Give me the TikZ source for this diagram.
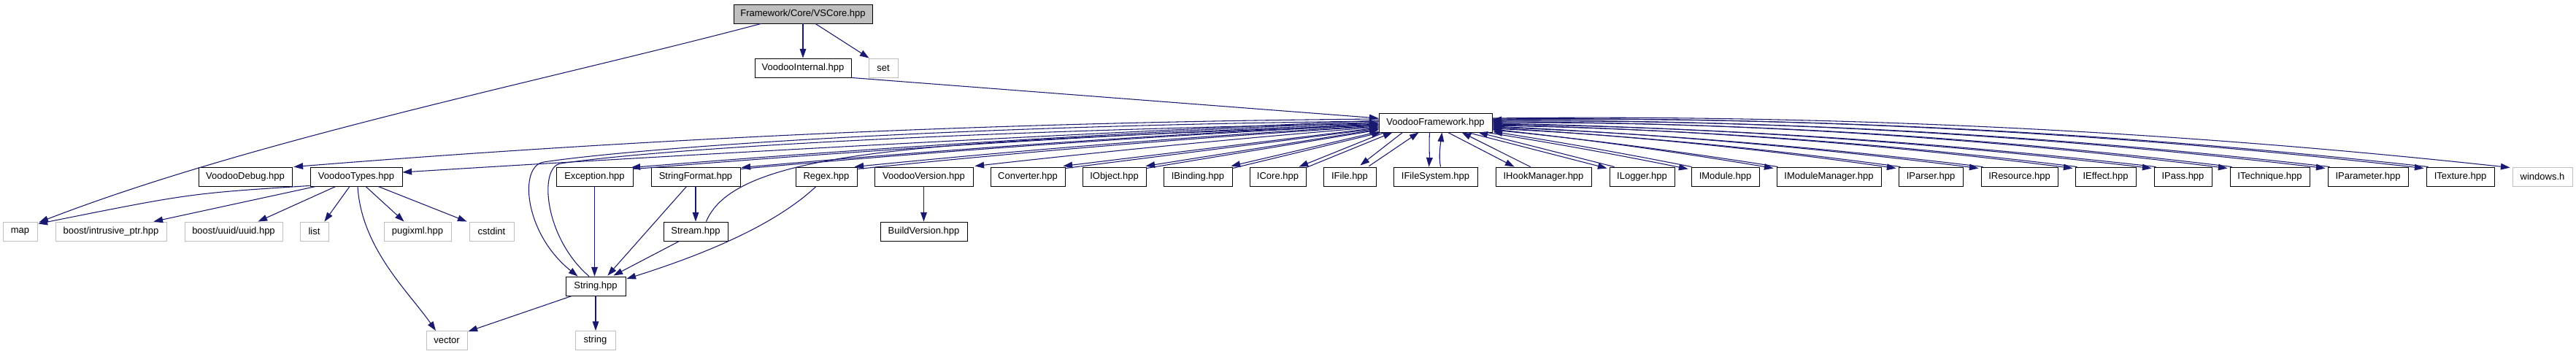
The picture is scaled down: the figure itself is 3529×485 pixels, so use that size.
\documentclass[tikz,border=0pt]{standalone}
\usepackage{fontspec}
\setmainfont{Liberation Sans}
\usetikzlibrary{arrows.meta,calc}
\definecolor{edgec}{HTML}{191970}
\definecolor{extc}{HTML}{BFBFBF}
% bent edge: #1 start point, #2 end point, #3 upward lift of the middle
\newcommand\bedge[3]{%
  \path #1 coordinate (bs) #2 coordinate (bt);
  \draw[e] (bs) .. controls ($(bs)!0.333!(bt)+(0,#3)$) and ($(bs)!0.667!(bt)+(0,#3)$) .. (bt);}
\begin{document}
\begin{tikzpicture}[x=0.75pt,y=0.75pt,
  nd/.style={draw=black,line width=0.65pt,inner sep=0pt,minimum height=19.5pt,
    font=\fontsize{9.75}{11.7}\selectfont,anchor=center},
  ext/.style={nd,draw=extc},
  bw/.style={minimum width=#1*0.75pt},
  e/.style={draw=edgec,line width=0.8pt,-{Triangle[length=9.5pt,width=6.5pt]}}]
\fill[white] (0,0) rectangle (3529,-485);
\useasboundingbox (0,0) rectangle (3529,-485);
% top
\node[nd,bw=190,fill=extc] (vscore) at (1100,-19) {Framework/Core/VSCore.hpp};
\node[nd,bw=132] (vint) at (1100,-93) {VoodooInternal.hpp};
\node[ext,bw=40] (set) at (1210,-93) {set};
\node[nd,bw=155] (vf) at (1966.5,-168) {VoodooFramework.hpp};
% row 2
\node[nd,bw=128] (dbg) at (336,-242) {VoodooDebug.hpp};
\node[nd,bw=126] (types) at (488,-242) {VoodooTypes.hpp};
\node[nd,bw=105] (exc) at (814.5,-242) {Exception.hpp};
\node[nd,bw=122] (sfmt) at (953,-242) {StringFormat.hpp};
\node[nd,bw=84] (regex) at (1132,-242) {Regex.hpp};
\node[nd,bw=135] (vver) at (1265.5,-242) {VoodooVersion.hpp};
\node[nd,bw=102] (conv) at (1408,-242) {Converter.hpp};
\node[nd,bw=87] (iobj) at (1526.5,-242) {IObject.hpp};
\node[nd,bw=94] (ibind) at (1641,-242) {IBinding.hpp};
\node[nd,bw=77] (icore) at (1750.5,-242) {ICore.hpp};
\node[nd,bw=72] (ifile) at (1849,-242) {IFile.hpp};
\node[nd,bw=115] (ifs) at (1966.5,-242) {IFileSystem.hpp};
\node[nd,bw=131] (ihook) at (2114.5,-242) {IHookManager.hpp};
\node[nd,bw=89] (ilog) at (2249.5,-242) {ILogger.hpp};
\node[nd,bw=93] (imod) at (2363.5,-242) {IModule.hpp};
\node[nd,bw=143] (imodm) at (2505.5,-242) {IModuleManager.hpp};
\node[nd,bw=88] (ipars) at (2645,-242) {IParser.hpp};
\node[nd,bw=105] (ires) at (2766.5,-242) {IResource.hpp};
\node[nd,bw=83] (ieff) at (2884.5,-242) {IEffect.hpp};
\node[nd,bw=79] (ipass) at (2990.5,-242) {IPass.hpp};
\node[nd,bw=109] (itech) at (3109.5,-242) {ITechnique.hpp};
\node[nd,bw=110] (iparam) at (3244,-242) {IParameter.hpp};
\node[nd,bw=93] (itex) at (3370.5,-242) {ITexture.hpp};
\node[ext,bw=82] (win) at (3483,-242) {windows.h};
% row 3
\node[ext,bw=47] (map) at (27.5,-317) {map};
\node[ext,bw=152] (bip) at (152,-317) {boost/intrusive\_ptr.hpp};
\node[ext,bw=134] (buuid) at (320,-317) {boost/uuid/uuid.hpp};
\node[ext,bw=39] (list) at (430.5,-317) {list};
\node[ext,bw=92] (pugi) at (572,-317) {pugixml.hpp};
\node[ext,bw=61] (cstd) at (673.5,-317) {cstdint};
\node[nd,bw=88] (stream) at (953,-317) {Stream.hpp};
\node[nd,bw=119] (bver) at (1265.5,-317) {BuildVersion.hpp};
% rows 4, 5
\node[nd,bw=82] (strh) at (816,-392) {String.hpp};
\node[ext,bw=56] (vector) at (612,-466.5) {vector};
\node[ext,bw=55] (strstd) at (815.5,-466.5) {string};
% top edges
\draw[e] ($(vscore.south west)+(38,0)$) .. controls (750,-110) and (350,-190) .. ($(map.north east)+(2,-1)$);
\draw[e] (vscore.south) -- (vint.north);
\draw[e] ($(vscore.south)+(17,0)$) -- ($(set.north west)+(1,0)$);
\draw[e] (vint.south east) -- ($(vf.west)+(0,6)$);
% VF -> left row
\bedge{($(vf.west)+(0,5)$)}{($(dbg.north east)+(2,0)$)}{18}
\bedge{($(vf.west)+(0,3)$)}{($(types.east)+(0,6)$)}{4}
\bedge{($(vf.west)+(0,1)$)}{($(exc.north east)+(-3,-1)$)}{7}
\bedge{($(exc.north east)+(1,-3)$)}{($(vf.west)+(0,-1)$)}{7}
\bedge{($(vf.west)+(0,-2)$)}{($(sfmt.north east)+(1,-1)$)}{6}
\bedge{($(sfmt.north east)+(0,-3)$)}{($(vf.west)+(0,-3)$)}{6}
\bedge{($(vf.west)+(0,-4)$)}{($(regex.north east)+(-4,0)$)}{5}
\bedge{($(regex.north east)+(0,-3)$)}{($(vf.west)+(0,-5)$)}{5}
\bedge{($(vf.west)+(0,-6)$)}{($(vver.north east)+(2,1)$)}{3}
\draw[e] ($(vf.west)+(0,-7)$) -- ($(conv.north east)+(-3,1)$);
\draw[e] ($(conv.north east)+(0,-2)$) -- ($(vf.west)+(0,-8)$);
\draw[e] ($(vf.west)+(0,-9)$) -- ($(iobj.north east)+(-1,1)$);
\draw[e] ($(iobj.north east)+(0,-2)$) -- ($(vf.west)+(0,-10)$);
\draw[e] ($(vf.south west)+(0,1)$) -- ($(ibind.north east)+(-2,1)$);
\draw[e] ($(ibind.north east)+(0,-2)$) -- ($(vf.south west)+(3,0)$);
\draw[e] ($(vf.south west)+(8,0)$) -- ($(icore.north east)+(-10,0)$);
\draw[e] ($(icore.north east)+(0,-1)$) -- ($(vf.south west)+(19,0)$);
\draw[e] ($(vf.south west)+(33,0)$) -- ($(ifile.north east)+(-22,2)$);
\draw[e] ($(ifile.north east)+(-10,1)$) -- ($(vf.south west)+(55,0)$);
\draw[e] ($(vf.south)+(-8,0)$) .. controls +(-1,-15) and +(1,15) .. ($(ifs.north)+(-9,0)$);
\draw[e] ($(ifs.north)+(7,0)$) .. controls +(-3,15) and +(-2,-15) .. ($(vf.south)+(9,0)$);
% VF -> right row
\draw[e] ($(vf.south)+(17,0)$) -- ($(ihook.north west)+(26,0)$);
\draw[e] ($(ihook.north west)+(48,0)$) -- ($(vf.south)+(36,0)$);
\draw[e] ($(vf.south east)+(-34,0)$) -- ($(ilog.north west)+(-3,-2)$);
\draw[e] ($(ilog.north west)+(7,0)$) -- ($(vf.south east)+(-19,0)$);
\bedge{($(vf.south east)+(-8,0)$)}{($(imod.north west)+(-4,-3)$)}{2}
\bedge{($(imod.north west)+(1,0)$)}{($(vf.south east)+(1,1)$)}{2}
\bedge{($(vf.east)+(0,-9)$)}{($(imodm.north west)+(-4,-2)$)}{4}
\bedge{($(imodm.north west)+(2,0)$)}{($(vf.east)+(0,-10)$)}{4}
\bedge{($(vf.east)+(0,-7)$)}{($(ipars.north west)+(-3,-2)$)}{8}
\bedge{($(ipars.north west)+(3,0)$)}{($(vf.east)+(0,-8)$)}{8}
\bedge{($(vf.east)+(0,-5)$)}{($(ires.north west)+(-3,-2)$)}{9}
\bedge{($(ires.north west)+(3,0)$)}{($(vf.east)+(0,-6)$)}{9}
\bedge{($(vf.east)+(0,-3)$)}{($(ieff.north west)+(-3,-2)$)}{14}
\bedge{($(ieff.north west)+(3,0)$)}{($(vf.east)+(0,-4)$)}{14}
\bedge{($(vf.east)+(0,-1)$)}{($(ipass.north west)+(-3,-2)$)}{15}
\bedge{($(ipass.north west)+(3,0)$)}{($(vf.east)+(0,-2)$)}{15}
\bedge{($(vf.east)+(0,1)$)}{($(itech.north west)+(-3,-2)$)}{21}
\bedge{($(itech.north west)+(3,0)$)}{($(vf.east)+(0,0)$)}{21}
\bedge{($(vf.east)+(0,3)$)}{($(iparam.north west)+(-3,-2)$)}{23}
\bedge{($(iparam.north west)+(3,0)$)}{($(vf.east)+(0,2)$)}{23}
\bedge{($(vf.east)+(0,5)$)}{($(itex.north west)+(-3,-2)$)}{26}
\bedge{($(itex.north west)+(3,0)$)}{($(vf.east)+(0,4)$)}{26}
\bedge{($(vf.east)+(0,6)$)}{($(win.north west)+(-3,-1)$)}{28}
% String.hpp <-> VF
\draw[e] ($(vf.west)+(0,2)$) .. controls (1300,-172) and (875,-202.5) .. (745,-222)
  .. controls (710,-227) and (718,-320) .. ($(strh.north west)+(17,0)$);
\draw[e] ($(strh.north)+(-9,0)$) .. controls (745,-325) and (738,-228.5) .. (768,-224)
  .. controls (898,-204.5) and (1300,-180) .. ($(vf.west)+(0,-1)$);
% Stream -> VF
\draw[e] ($(stream.north east)+(-30,0)$) .. controls (1010,-200) and (1300,-195) .. ($(vf.west)+(0,-3)$);
% lower edges
\draw[e] (exc.south) -- (exc.south |- strh.north);
\draw[e] ($(sfmt.south west)+(49,0)$) -- ($(strh.north east)+(-25,1)$);
\draw[e] (sfmt.south) -- (stream.north);
\draw[e] ($(stream.south west)+(22,0)$) -- ($(strh.north east)+(-17,1)$);
\draw[e] ($(regex.south)+(-14,0)$) .. controls (1060,-310) and (960,-350) .. ($(strh.east)+(1,10)$);
\draw[e] (vver.south) -- (bver.north);
\draw[e] ($(strh.south west)+(9,0)$) -- ($(vector.north east)+(1,-1)$);
\draw[e] (strh.south) -- (strh.south |- strstd.north);
% VoodooTypes edges
\draw[e] ($(types.south west)+(0,1)$) .. controls (260,-265) .. ($(map.north east)+(1,-3)$);
\draw[e] ($(types.south west)+(8,0)$) -- ($(bip.north east)+(-18,0)$);
\draw[e] ($(types.south)+(-28,0)$) -- ($(buuid.north east)+(-34,0)$);
\draw[e] ($(types.south)+(-9,0)$) -- ($(list.north east)+(-6,0)$);
\draw[e] ($(types.south)+(13,0)$) -- ($(pugi.north west)+(28,0)$);
\draw[e] ($(types.south)+(30,0)$) -- ($(cstd.north west)+(-3,0)$);
\draw[e] ($(types.south)+(2,0)$) .. controls (495,-340) and (560,-400) .. ($(vector.north)+(-15,0)$);
\end{tikzpicture}
\end{document}
